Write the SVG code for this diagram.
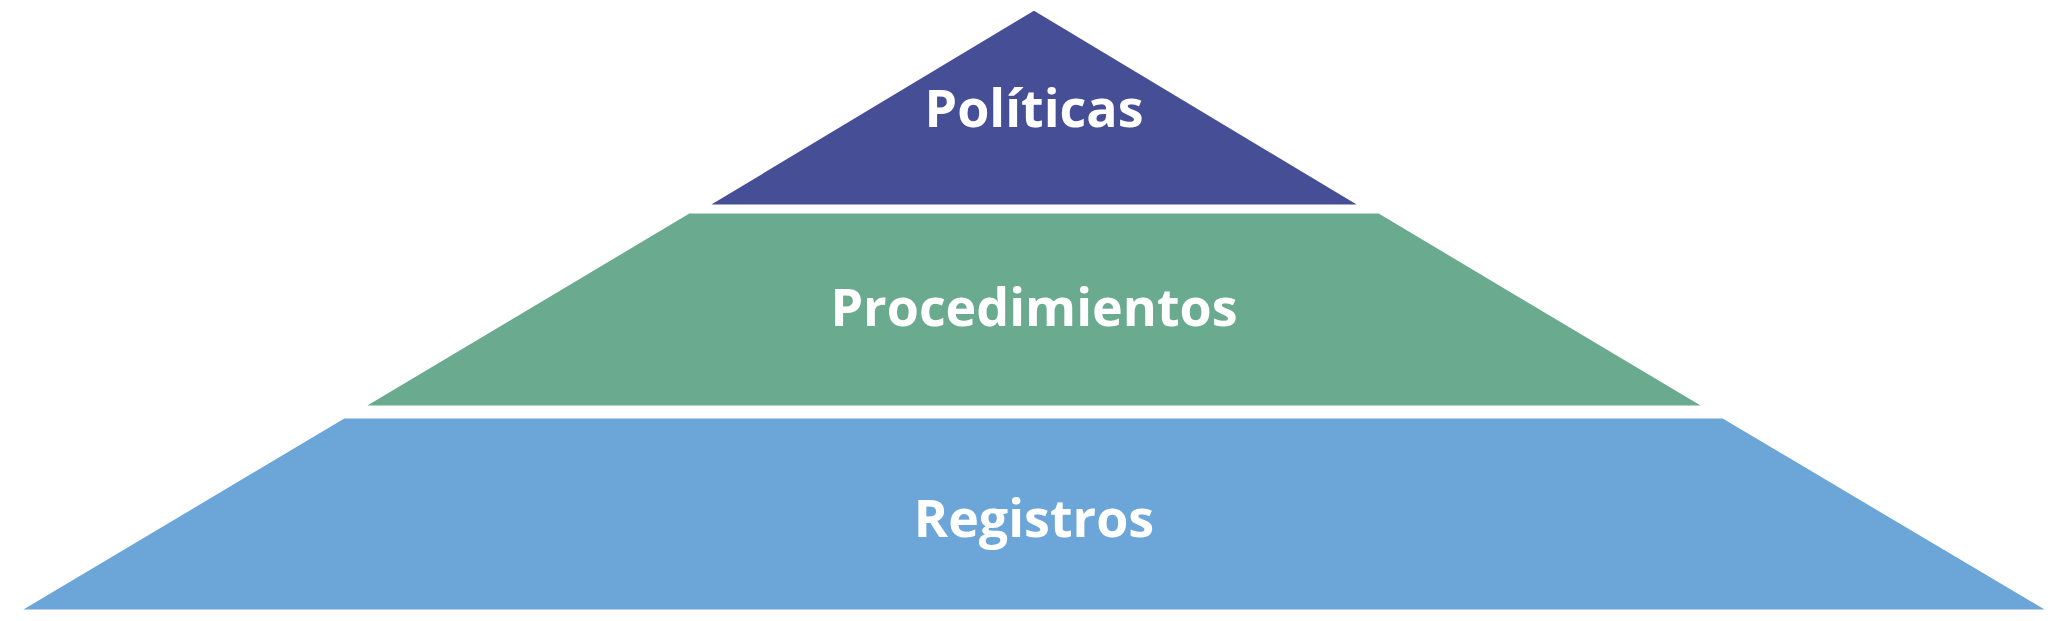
<svg xmlns="http://www.w3.org/2000/svg" width="2069" height="621" viewBox="0 0 2069 621">
<style>
.t{font-family:"Open Sans","Liberation Sans",sans-serif;font-weight:bold;font-size:52px;fill:#fff;text-anchor:middle;dominant-baseline:central}
.s{stroke:#fff;stroke-width:3;stroke-linejoin:round}
</style>
<rect width="2069" height="621" fill="#fff"/>
<g id="politicas"><path class="s" d="M1034 9 L1362 206 L706 206 Z" fill="#464F96"/><text class="t" x="1034" y="106">Políticas</text></g>
<g id="procedimientos"><path class="s" d="M689 212 L1379 212 L1706 407 L362 407 Z" fill="#6AAB8F"/><text class="t" x="1034" y="305">Procedimientos</text></g>
<g id="registros"><path class="s" d="M344 417 L1723 417 L2050 611 L18 611 Z" fill="#6CA6D8"/><text class="t" x="1034" y="516">Registros</text></g>
<g id="connectors"/>
</svg>
